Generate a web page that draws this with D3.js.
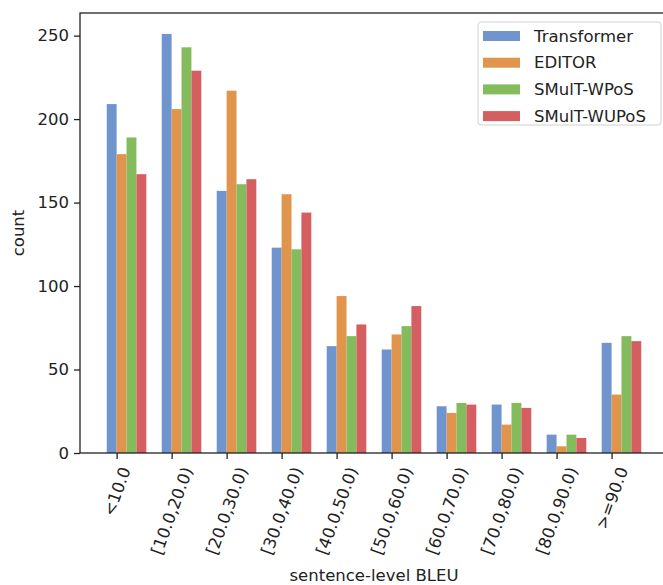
<!DOCTYPE html>
<html>
  <head>
    <meta charset="utf-8">
    <title>Sentence-level BLEU counts</title>
    <script src="https://d3js.org/d3.v7.min.js"></script>
    <style>
      body { margin: 0; background: #fff; }
      text { font-family: "DejaVu Sans", sans-serif; fill: #222; }
      .tick text { font-size: 16.5px; }
    </style>
  </head>
  <body>
    <svg id="chart" width="663" height="585"></svg>
    <script>
      // data
      var bins = ["<10.0", "[10.0,20.0)", "[20.0,30.0)", "[30.0,40.0)", "[40.0,50.0)",
                  "[50.0,60.0)", "[60.0,70.0)", "[70.0,80.0)", "[80.0,90.0)", ">=90.0"];
      var models = ["Transformer", "EDITOR", "SMulT-WPoS", "SMulT-WUPoS"];
      var transformer = [209, 251, 157, 123, 64, 62, 28, 29, 11, 66];
      var editor = [179, 206, 217, 155, 94, 71, 24, 17, 4, 35];
      var wpos = [189, 243, 161, 122, 70, 76, 30, 30, 11, 70];
      var wupos = [167, 229, 164, 144, 77, 88, 29, 27, 9, 67];
      var series = [transformer, editor, wpos, wupos];
      var colours = ["#7094cd", "#e1944c", "#84bb5c", "#d45e60"];

      var margin = { top: 13, right: -5, bottom: 132, left: 80 };
      var width = 663, height = 585;
      var barW = 0.18;
      var chart = d3.select("#chart");

      // scales (matplotlib style 5% margins on x)
      var lo = -barW, hi = bins.length - 1 + 3 * barW;
      var pad = (hi - lo) * 0.05;
      var x = d3.scaleLinear()
        .domain([lo - pad, hi + pad])
        .range([margin.left, width - margin.right]);
      var y = d3.scaleLinear()
        .domain([0, d3.max(series, function(s) { return d3.max(s); }) * 1.05])
        .range([height - margin.bottom, margin.top]);

      // bars
      series.forEach(function(s, j) {
        chart.append("g")
          .selectAll("rect")
          .data(s)
          .enter().append("rect")
            .attr("x", function(d, i) { return x(i + (j - 1) * barW); })
            .attr("width", function() { return x(barW) - x(0); })
            .attr("y", function(d) { return y(d); })
            .attr("height", function(d) { return y(0) - y(d); })
            .style("fill", colours[j]);
      });

      // y axis
      var yAxis = d3.axisLeft(y)
        .tickValues([0, 50, 100, 150, 200, 250])
        .tickSize(6)
        .tickPadding(5);
      var yAxisGroup = chart.append("g")
        .attr("transform", "translate(" + margin.left + ",0)")
        .call(yAxis);
      // x axis
      var xAxis = d3.axisBottom(x)
        .tickValues(d3.range(bins.length))
        .tickFormat(function(d) { return bins[d]; })
        .tickSize(6)
        .tickSizeOuter(0);
      var xAxisGroup = chart.append("g")
        .attr("transform", "translate(0," + (height - margin.bottom) + ")")
        .call(xAxis);
      chart.selectAll(".domain").remove();
      chart.selectAll(".tick line").attr("stroke", "#222").attr("stroke-width", 1.3);

      // rotated x labels, bbox centred under the tick like matplotlib
      xAxisGroup.selectAll(".tick text")
        .attr("y", null)
        .attr("dy", null)
        .attr("text-anchor", "end")
        .attr("dominant-baseline", "central")
        .attr("transform", function() {
          var L = this.getComputedTextLength();
          var h = 16.5;
          return "translate(" + (0.171 * L) + "," + (12 + 0.171 * h) + ") rotate(-70)";
        });

      // spines
      chart.append("rect")
        .attr("x", margin.left)
        .attr("y", margin.top)
        .attr("width", width - margin.right - margin.left)
        .attr("height", height - margin.bottom - margin.top)
        .style("fill", "none")
        .style("stroke", "#222")
        .style("stroke-width", 1.3);

      // axis labels
      chart.append("text")
        .attr("x", (x.range()[0] + x.range()[1]) / 2)
        .attr("y", 581)
        .attr("text-anchor", "middle")
        .style("font-size", "16.5px")
        .text("sentence-level BLEU");
      chart.append("text")
        .attr("transform", "translate(24," + (height - margin.bottom + margin.top) / 2 + ") rotate(-90)")
        .attr("text-anchor", "middle")
        .style("font-size", "16.5px")
        .text("count");

      // legend
      var legend = chart.append("g").attr("transform", "translate(478,22)");
      legend.append("rect")
        .attr("width", 183)
        .attr("height", 103)
        .attr("rx", 3)
        .style("fill", "rgba(255,255,255,0.8)")
        .style("stroke", "#d0d0d0")
        .style("stroke-width", 1);
      models.forEach(function(m, j) {
        var row = legend.append("g").attr("transform", "translate(0," + (14 + j * 26.7) + ")");
        row.append("rect")
          .attr("x", 5)
          .attr("y", -5)
          .attr("width", 37)
          .attr("height", 10)
          .style("fill", colours[j]);
        row.append("text")
          .attr("x", 56)
          .attr("dominant-baseline", "central")
          .style("font-size", "16.5px")
          .text(m);
      });
    </script>
  </body>
</html>
